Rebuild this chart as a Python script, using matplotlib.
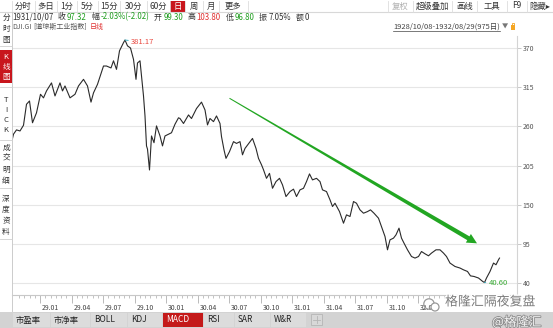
import matplotlib
matplotlib.use('Agg')
import matplotlib.pyplot as plt
from matplotlib.patches import Rectangle, Polygon, Circle
import matplotlib.patheffects as pe
import matplotlib.transforms as mtransforms
import numpy as np

plt.rcParams['font.family'] = ['Noto Sans CJK SC', 'DejaVu Sans']

# ---------------- data (trading-day index from 1928/10/08, close) ----------------
DAY_IDX = [0, 3, 9, 16, 23, 29, 35, 41, 49, 57, 63, 69, 79, 86, 96, 101, 106, 116, 126, 133,
           143, 151, 158, 163, 171, 183, 189, 198, 203, 209, 215, 223, 226, 231, 237, 243, 248,
           251, 256, 263, 266, 269, 271, 275, 279, 284, 289, 296, 301, 306, 313, 319, 326, 333,
           336, 343, 353, 359, 369, 379, 386, 391, 396, 403, 409, 416, 419, 424, 428, 435, 443,
           449, 456, 461, 466, 476, 481, 488, 493, 499, 503, 509, 515, 521, 528, 535, 541, 548,
           556, 563, 569, 576, 583, 589, 595, 601, 609, 616, 621, 629, 636, 641, 646, 655, 663,
           669, 676, 683, 689, 696, 703, 711, 717, 724, 733, 739, 746, 751, 756, 763, 768, 774,
           779, 784, 791, 799, 806, 813, 819, 826, 833, 839, 848, 856, 863, 869, 876, 886, 896,
           903, 911, 917, 924, 933, 941, 945, 949, 956, 963, 968, 973, 975]
CLOSE = [240, 249, 255, 253.5, 261.5, 291, 295.6, 265, 279, 305, 300, 309.7, 321, 302.7, 321,
         309.7, 316.7, 300, 305, 316.7, 326, 316.7, 294, 307, 319, 344.7, 344.7, 342, 352, 340,
         366, 377.5, 381.17, 373, 370, 354, 326, 349, 352, 302.7, 274.6, 232.5, 228, 198.7,
         246.5, 237, 260.6, 246.5, 232.5, 246.5, 249, 251, 263, 272, 271, 264, 276, 271, 285,
         294, 283, 262, 271, 266.6, 274.6, 264, 245.6, 227, 215, 224.5, 238.5, 236, 238.5, 220,
         229, 238.5, 243, 229, 215, 206, 199, 187, 194, 173, 182.4, 187, 177.8, 161.4, 168.4,
         171.8, 161.4, 170.8, 173, 182.4, 193.2, 184.8, 187, 182.4, 170.8, 168.4, 156.8, 147.4,
         152, 140.3, 124, 135.7, 133.4, 154.4, 152, 142.7, 138, 140.3, 142.7, 138, 131, 119.3,
         105.3, 86.6, 100.6, 103, 107.6, 117, 103, 96, 86.6, 77.2, 75, 77.2, 84.2, 81, 78.2, 82,
         86.6, 86.6, 82, 77.2, 68, 63.2, 61, 58.5, 56.2, 50, 49.2, 47, 42.4, 40.6, 47, 56.2, 68,
         65.6, 72.6, 75]

X_TICK_IDX = [56, 119, 182, 245, 308, 371, 434, 497, 560, 623, 686, 749, 812]
X_TICK_LABELS = ['29.01', '29.04', '29.07', '29.10', '30.01', '30.04', '30.07', '30.10',
                 '31.01', '31.04', '31.07', '31.10', '32.01']
Y_TICKS = [40, 95, 150, 205, 260, 315, 370]

PEAK = (226, 381.17)
TROUGH = (945, 40.60)
ARROW_FROM = (435, 299.4)
ARROW_TO = (930, 95.7)

# ---------------- figure ----------------
W, H = 553, 328
fig = plt.figure(figsize=(W / 100, H / 100), dpi=100)
fig.patch.set_facecolor('white')


def px_rect(l, t, r, b):
    return [l / W, 1 - b / H, (r - l) / W, (b - t) / H]


ax = fig.add_axes(px_rect(12, 36, 517, 295))
ax.set_facecolor('white')
ax.plot(DAY_IDX, CLOSE, color='#2a2a2a', lw=0.8, zorder=3)
ax.set_xlim(0, 1010)
ax.set_ylim(23.15, 386.85)
ax.spines['top'].set_visible(False)
ax.spines['left'].set_visible(False)
ax.spines['right'].set_color('#d4d4d4')
ax.spines['bottom'].set_color('#c8c8c8')
ax.spines['right'].set_linewidth(0.8)
ax.spines['bottom'].set_linewidth(0.8)
ax.yaxis.tick_right()
ax.set_yticks(Y_TICKS)
ax.set_yticklabels([str(v) for v in Y_TICKS])
ax.tick_params(axis='y', length=3, width=0.6, color='#c0c0c0', labelsize=5,
               labelcolor='#555555', pad=1)
ax.grid(axis='y', color='#e6e6e6', lw=0.8, zorder=0)
ax.set_xticks(X_TICK_IDX)
ax.set_xticklabels(X_TICK_LABELS)
ax.set_xticks(np.arange(14, 870, 10.5), minor=True)
ax.tick_params(axis='x', which='major', length=6, width=0.6, color='#b0b0b0',
               labelsize=5, labelcolor='#444444', pad=0.5)
ax.tick_params(axis='x', which='minor', length=2, width=0.6, color='#b8b8b8')
off = mtransforms.ScaledTranslation(2 / 100, 0, fig.dpi_scale_trans)
for lab in ax.get_xticklabels():
    lab.set_horizontalalignment('left')
    lab.set_transform(lab.get_transform() + off)

# peak / trough labels
ax.annotate('381.17', xy=PEAK, xytext=(6, -2), textcoords='offset pixels',
            fontsize=5.5, color='#e8453c', va='center', ha='left',
            arrowprops=dict(arrowstyle='-', color='#3fb3c6', lw=0.7, shrinkA=0, shrinkB=0))
ax.annotate('40.60', xy=TROUGH, xytext=(4, 0), textcoords='offset pixels',
            fontsize=5.5, color='#3aaa35', va='center', ha='left',
            arrowprops=dict(arrowstyle='-', color='#3fb3c6', lw=0.7, shrinkA=0, shrinkB=0))

# ---------------- UI overlay ----------------
ui = fig.add_axes([0, 0, 1, 1], zorder=5)
ui.set_xlim(0, W)
ui.set_ylim(H, 0)
ui.axis('off')
ui.patch.set_alpha(0)

# green trend arrow (tapered)
p0 = ax.transData.transform(ARROW_FROM)
p1 = ax.transData.transform(ARROW_TO)
p0 = np.array([p0[0], H - p0[1]])
p1 = np.array([p1[0], H - p1[1]])
d = p1 - p0
L = np.hypot(*d)
d = d / L
n = np.array([-d[1], d[0]])
hb = p1 - d * 10
poly = [p0 + n * 0.5, hb + n * 2.2, hb + n * 5.0, p1, hb - n * 5.0, hb - n * 2.2, p0 - n * 0.5]
ui.add_patch(Polygon(poly, closed=True, facecolor='#22a622', edgecolor='none', zorder=4))

DARK = '#333333'
GREEN = '#1f9d1f'
RED = '#e03030'


def t(x, y, s, color=DARK, size=6, ha='left', va='center', **kw):
    return ui.text(x, y, s, color=color, fontsize=size, ha=ha, va=va, **kw)


# row 1 toolbar
ui.add_patch(Rectangle((0, 0), W, 12, facecolor='white', edgecolor='none'))
ui.plot([0, W], [12, 12], color='#d8d8d8', lw=0.8)
seps = [12, 35, 57, 77, 98, 120, 147, 170, 185, 203, 219, 248]
for sx in seps:
    ui.plot([sx, sx], [1, 12], color='#dddddd', lw=0.6)
ui.add_patch(Rectangle((170, 0.5), 15, 11.5, facecolor='#c8161d', edgecolor='none'))
btns = [('分时', 23.5), ('多日', 46), ('1分', 67), ('5分', 87.5), ('15分', 109), ('30分', 133.5),
        ('60分', 158.5), ('日', 177.5), ('周', 194), ('月', 211), ('更多', 233)]
for s, cx in btns:
    t(cx, 6, s, color='white' if s == '日' else DARK, ha='center')
rseps = [388, 413, 452, 477, 507, 527]
for sx in rseps:
    ui.plot([sx, sx], [1, 12], color='#dddddd', lw=0.6)
t(400, 6, '复权', color='#b0b0b0', ha='center')
for s, cx in [('超级叠加', 432.5), ('画线', 464.5), ('工具', 492), ('F9', 517), ('隐藏▸', 540)]:
    t(cx, 6, s, ha='center')

# row 2 quote info (sequential layout)
fig.canvas.draw()
rend = fig.canvas.get_renderer()
segs = [('1931/10/07', DARK, 5), ('收', DARK, 1.5), ('97.32', GREEN, 5), ('幅', DARK, 1.5),
        ('-2.03%(-2.02)', GREEN, 5), ('开', DARK, 1.5), ('99.30', GREEN, 5), ('高', DARK, 1.5),
        ('103.80', RED, 5), ('低', DARK, 1.5), ('96.80', GREEN, 5), ('振', DARK, 1.5),
        ('7.05%', DARK, 5), ('额', DARK, 1.5), ('0', DARK, 0)]
objs = []
for s, c, g in segs:
    objs.append(t(0, 17, s, color=c, size=5.7))
widths = [o.get_window_extent(rend).width for o in objs]
total_gap = sum(g for _, _, g in segs)
scale = min(1.3, max(0.3, (309 - 12 - sum(widths)) / total_gap))
x = 12
for o, w, (s, c, g) in zip(objs, widths, segs):
    o.set_x(x)
    x += w + g * scale

# row 3
x = 12
for s, c, g in [('DJI.GI', '#555555', 2), ('[道琼斯工业指数]', '#555555', 2.5), ('日线', RED, 0)]:
    o = t(x, 27, s, color=c, size=5.0)
    x += o.get_window_extent(rend).width + g
rng = t(500, 27, '1928/10/08-1932/08/29(975日)', color='#444444', size=5.4, ha='right')
rw = rng.get_window_extent(rend).width
ui.plot([500 - rw, 500], [31, 31], color='#444444', lw=0.5)
t(505, 27, '▼', color='#777777', size=4.5, ha='center')
ui.add_patch(Rectangle((510.5, 25), 4.5, 4.5, facecolor='#f5a623', edgecolor='none'))
ui.plot([511.5, 511.5, 514, 514], [25, 23, 23, 25], color='#f5a623', lw=0.6)

# left sidebar
ui.plot([11.6, 11.6], [12, 311], color='#cccccc', lw=0.7)
for s, y in zip('分时图', [18, 29, 40]):
    t(6, y, s, ha='center', size=5.5)
ui.add_patch(Rectangle((0, 50), 11.6, 33, facecolor='#c8161d', edgecolor='none'))
for s, y in zip('K线图', [57, 67, 77]):
    t(6, y, s, color='white', ha='center', size=5.5)
for s, y in zip('TICK', [100, 110, 120, 130]):
    t(6, y, s, ha='center', size=5.5)
for s, y in zip('成交明细', [148, 159, 170, 181]):
    t(6, y, s, ha='center', size=5.5)
for s, y in zip('深度资料', [199, 210, 221, 232]):
    t(6, y, s, ha='center', size=5.5)
for y in [46, 87, 140, 188, 239]:
    ui.plot([0, 11.6], [y, y], color='#d0d0d0', lw=0.6)

# bottom tab bar
ui.add_patch(Rectangle((0, 311.5), W, H - 311.5, facecolor='#d3d3d3', edgecolor='none'))
tabs = [('市盈率', 12, 50), ('市净率', 50, 90), ('BOLL', 90, 127), ('KDJ', 127, 162),
        ('MACD', 162, 203), ('RSI', 203, 234), ('SAR', 234, 270), ('W&R', 270, 306)]
for s, l, r in tabs:
    active = s == 'MACD'
    ui.add_patch(Rectangle((l + 0.5, 312.5), r - l - 1, 14.5,
                           facecolor='#c41a1a' if active else '#dcdcdc', edgecolor='none'))
    t(l + 4, 320, s, color='white' if active else '#222222', size=6)
ui.add_patch(Rectangle((311, 314), 11, 11, facecolor='#d8d8d8', edgecolor='#b5b5b5', lw=0.6))
ui.plot([313, 320], [319.5, 319.5], color='#b5b5b5', lw=0.6)
ui.plot([316.5, 316.5], [316, 323], color='#b5b5b5', lw=0.6)

# watermark
ui.add_patch(Circle((429, 304), 5.2, facecolor='none', edgecolor='#9a9a9a', lw=0.9))
ui.add_patch(Circle((435, 307), 4.0, facecolor='white', edgecolor='#9a9a9a', lw=0.9))
t(445, 302, '格隆汇隔夜复盘', color='#7c7c7c', size=9.3,
  path_effects=[pe.withStroke(linewidth=2, foreground='white')])
t(492, 322, '@格隆汇', color='#f4f4f4', size=9,
  path_effects=[pe.withStroke(linewidth=1.2, foreground='#8c8c8c')])

fig.savefig('out.png', dpi=100)
